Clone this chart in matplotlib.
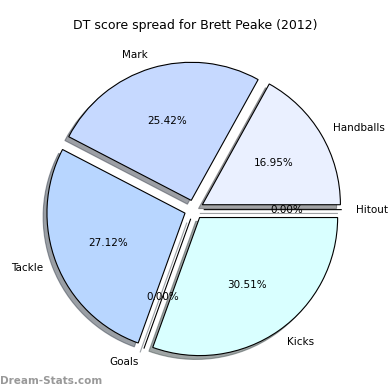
import matplotlib
matplotlib.use("Agg")
from matplotlib import pyplot as plt

labels = ['Handballs', 'Mark', 'Tackle', 'Goals', 'Kicks', 'Hitout']
values = [10, 15, 16, 0, 18, 0]
colors = ['#EAF0FF', '#C6D9FF', '#B8D6FF', '#C0E0FF', '#D9FFFF', '#E0E8FF']
explode = [0.07] * len(values)


def main():
    fig = plt.figure(figsize=(3.9, 3.9), dpi=100)
    ax = fig.add_axes([0.055, 0.02, 0.885, 0.885])
    wedges, texts, autotexts = ax.pie(values, labels=labels, colors=colors, explode=explode,
                                      autopct='%1.2f%%', shadow=True, startangle=0,
                                      wedgeprops={'linewidth': 0.8, 'edgecolor': 'black'},
                                      textprops={'fontsize': 7.5})
    ax.set_aspect('equal')
    fig.text(0.5, 0.925, 'DT score spread for Brett Peake (2012)', ha='center', fontsize=9)
    fig.text(0.0, 0.015, 'Dream-Stats.com', color='#999999', fontsize=7.5, fontweight='bold')
    fig.savefig('out.png', dpi=100)


if __name__ == '__main__':
    main()
